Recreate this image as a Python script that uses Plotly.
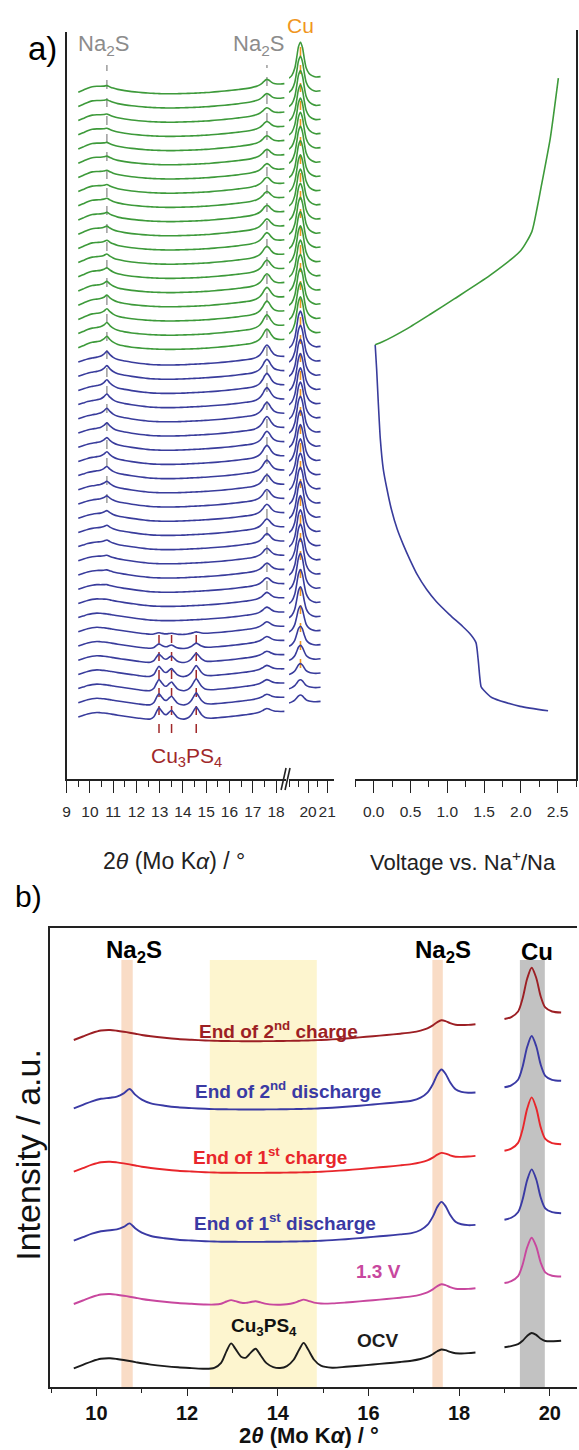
import plotly.graph_objects as go

W, H = 579, 1450
FONT = "Liberation Sans, Arial, Helvetica, sans-serif"

# ===================== DATA =====================
# ---- panel a : operando XRD waterfall (arbitrary intensity units) ----
two_theta_a = [9.5, 9.7, 9.9, 10.1, 10.3, 10.45, 10.6, 10.73, 10.86, 11.0,
               11.2, 11.5, 11.8, 12.1, 12.4, 12.6, 12.75, 12.87, 12.97, 13.07,
               13.2, 13.3, 13.4, 13.51, 13.62, 13.75, 13.9, 14.05, 14.2, 14.35,
               14.47, 14.57, 14.67, 14.8, 14.95, 15.2, 15.5, 15.8, 16.1, 16.4,
               16.7, 16.95, 17.15, 17.3, 17.42, 17.52, 17.61, 17.7, 17.8, 17.92,
               18.05, 18.2, 18.36]
baseline_discharge_a = [0, 1.5, 3, 4, 4.5, 4.3, 4, 3.6, 3.2, 2.6,
                        1.8, 0.8, -0.2, -1.2, -2, -2.5, -2.7, -2.8, -2.9, -3,
                        -3, -3, -3, -3, -3, -2.9, -2.8, -2.7, -2.5, -2.3,
                        -2.2, -2.1, -2, -1.8, -1.6, -1.2, -0.7, -0.1, 0.6, 1.4,
                        2.3, 3.1, 3.8, 4.3, 4.6, 4.8, 5, 5.1, 5.2, 5.3,
                        5.4, 5.5, 5.6]
baseline_charge_a = [0, 2, 4, 5.5, 5.8, 5.5, 5, 4.6, 4.1, 3.5,
                     2.6, 1.5, 0.6, -0.1, -0.7, -1, -1.2, -1.3, -1.4, -1.5,
                     -1.5, -1.6, -1.6, -1.6, -1.6, -1.5, -1.4, -1.3, -1.2, -1.1,
                     -1, -0.9, -0.8, -0.6, -0.4, 0, 0.6, 1.2, 1.9, 2.7,
                     3.6, 4.6, 5.4, 6, 6.4, 6.6, 6.8, 7, 7.2, 7.4,
                     7.7, 8.1, 8.6]
two_theta_cu_a = [19.0, 19.15, 19.3, 19.4, 19.5, 19.6, 19.7, 19.8, 19.9, 20.05, 20.2, 20.4, 20.65]
baseline_cu_a = [14, 14.8, 15.4, 15.7, 15.9, 16, 16, 15.9, 15.7, 15.4, 15.2, 15.2, 15.6]

# normalised reflection profiles
na2s_low_profile = {10.3: 0.05, 10.45: 0.2, 10.6: 0.55, 10.73: 1.0, 10.86: 0.6,
                    11.0: 0.3, 11.2: 0.1, 11.5: 0.03}
na2s_high_profile = {17.15: 0.07, 17.3: 0.22, 17.42: 0.5, 17.52: 0.84, 17.61: 1.0,
                     17.7: 0.82, 17.8: 0.48, 17.92: 0.2, 18.05: 0.08, 18.2: 0.02}
cu3ps4_profile = {12.6: 0.05, 12.75: 0.25, 12.87: 0.7, 12.97: 1.0, 13.07: 0.78,
                  13.2: 0.48, 13.3: 0.46, 13.4: 0.64, 13.51: 0.8, 13.62: 0.55,
                  13.75: 0.24, 13.9: 0.09, 14.05: 0.05, 14.2: 0.12, 14.35: 0.36,
                  14.47: 0.74, 14.57: 1.0, 14.67: 0.74, 14.8: 0.34, 14.95: 0.1}
cu_profile_a = {19.15: 0.06, 19.3: 0.25, 19.4: 0.55, 19.5: 0.88, 19.6: 1.0,
                19.7: 0.85, 19.8: 0.52, 19.9: 0.25, 20.05: 0.1, 20.2: 0.04}
cu_profile_b = {19.15: 0.02, 19.3: 0.12, 19.4: 0.38, 19.5: 0.78, 19.6: 1.0,
                19.7: 0.78, 19.8: 0.38, 19.9: 0.14, 20.05: 0.04}

n_discharge_scans = 26
n_charge_scans = 19
scan_spacing = 14.2
na2s_low_height_a = [0, 0, 0, 0, 0, 0, 0, 0, 0.5, 1, 1.5, 2, 3, 3.5, 4, 4.5, 5, 5.5, 6, 6,
                     6.5, 7, 7, 7, 7, 7,
                     7, 6.5, 6, 5.5, 5, 4.5, 4, 3.5, 3.5, 3, 3, 2.5, 2.5, 2.5, 2, 2, 2, 2, 2]
na2s_high_height_a = [3.5, 3.5, 4, 4, 4, 4.5, 5, 5.5, 6, 6.5, 7, 7.5, 8, 8.5, 9, 9.5, 10, 10.5,
                      11, 11, 11.5, 11.5, 12, 12, 12, 12,
                      12, 12, 11.5, 11, 10.5, 10, 9.5, 9, 8.5, 8, 7.5, 7.5, 7, 7, 6.5, 6.5, 6, 6, 6]
cu3ps4_height_a = [12, 12, 12, 11, 9, 5, 2, 0, 0, 0, 0, 0, 0, 0, 0, 0, 0, 0, 0, 0,
                   0, 0, 0, 0, 0, 0,
                   0, 0, 0, 0, 0, 0, 0, 0, 0, 0, 0, 0, 0, 0, 0, 0, 0, 0, 0]
cu_height_a = [6, 7, 9, 13, 18, 24, 29, 32, 34, 35, 35, 35, 35, 35, 35, 35, 35, 35, 35, 35,
               35, 35, 35, 35, 35, 35,
               35, 35, 35, 35, 35, 35, 35, 35, 35, 35, 35, 35, 35, 35, 35, 34, 34, 34, 34]

# ---- panel a : voltage profile (time in scan numbers) ----
scan_time_discharge = [0.42, 0.73, 1.34, 1.90, 2.11, 4.01, 5.21, 5.77, 6.34, 7.18, 8.10,
                       8.94, 10.0, 11.06, 12.11, 13.17, 14.58, 16.0, 17.4, 19.5, 22.3, 24.4, 26.13]
voltage_discharge = [2.37, 1.99, 1.61, 1.49, 1.46, 1.42, 1.39, 1.32, 1.21, 1.03, 0.85,
                     0.72, 0.59, 0.49, 0.40, 0.32, 0.24, 0.18, 0.13, 0.09, 0.06, 0.04, 0.02]
scan_time_charge = [26.13, 26.34, 27.25, 28.31, 29.37, 31.0, 32.75, 34.08, 35.7, 37.32, 40.63, 44.86]
voltage_charge = [0.02, 0.12, 0.45, 0.78, 1.10, 1.58, 2.00, 2.15, 2.22, 2.28, 2.40, 2.51]

# ---- panel b : selected patterns ----
two_theta_b = two_theta_a
baseline_b = [0, 3.5, 7, 9.5, 10, 9.3, 8.3, 7.3, 6.2, 5,
              3.7, 2.2, 1, 0.2, -0.5, -0.8, -1, -1, -1.1, -1.1,
              -1.2, -1.2, -1.2, -1.2, -1.2, -1.1, -1.1, -1, -0.9, -0.8,
              -0.7, -0.6, -0.5, -0.3, 0, 0.6, 1.5, 2.6, 3.8, 5,
              6.3, 7.6, 8.8, 9.8, 10.6, 11.2, 11.8, 12.4, 13, 13.6,
              14.3, 15, 15.8]
two_theta_cu_b = [19.0, 19.15, 19.3, 19.4, 19.5, 19.6, 19.7, 19.8, 19.9, 20.05, 20.25]
baseline_cu_b = [21, 22, 22.8, 23.3, 23.8, 24.3, 24.8, 25.3, 25.8, 26.6, 27.5]

patterns_b = ["OCV", "1.3 V", "End of 1<sup>st</sup> discharge", "End of 1<sup>st</sup> charge",
              "End of 2<sup>nd</sup> discharge", "End of 2<sup>nd</sup> charge"]
colors_b = ["#1c1c1c", "#c8479e", "#3a3aa4", "#e8262b", "#3a3aa4", "#9c1f24"]
level_b = [18.7, 83, 146.3, 215.3, 278.7, 347]
na2s_low_height_b = [0, 0, 10, 0, 12, 0]
na2s_high_height_b = [7, 8, 27, 7, 27, 8]
cu3ps4_height_b = [26, 5, 0, 0, 0, 0]
cu_height_b = [11, 42, 47, 50, 48, 48]
label_pos_b = [(378, 1340), (378, 1271), (284, 1222), (269, 1156), (287, 1090), (277, 1030)]

na2s_positions = [10.73, 17.61]
cu3ps4_positions = [12.97, 13.51, 14.57]
cu_position = 19.6

# colours
BLUE_A = "#393c9c"
GREEN_A = "#3d9a3a"

# ===================== FIGURE =====================
fig = go.Figure()


def pattern(two_theta, base, level, parts):
    out = []
    for k, x in enumerate(two_theta):
        v = level + base[k]
        for h, prof in parts:
            v += h * prof.get(x, 0)
        out.append(v)
    return out


for i in range(n_discharge_scans + n_charge_scans):
    discharge = i < n_discharge_scans
    col = BLUE_A if discharge else GREEN_A
    base = baseline_discharge_a if discharge else baseline_charge_a
    lvl = i * scan_spacing
    y_main = pattern(two_theta_a, base, lvl,
                     [(na2s_low_height_a[i], na2s_low_profile),
                      (na2s_high_height_a[i], na2s_high_profile),
                      (cu3ps4_height_a[i], cu3ps4_profile)])
    y_cu = pattern(two_theta_cu_a, baseline_cu_a, lvl, [(cu_height_a[i], cu_profile_a)])
    fig.add_trace(go.Scatter(x=two_theta_a, y=y_main, xaxis="x", yaxis="y", mode="lines",
                             line=dict(color=col, width=1.6, shape="spline", smoothing=0.8),
                             hoverinfo="skip", showlegend=False))
    fig.add_trace(go.Scatter(x=two_theta_cu_a, y=y_cu, xaxis="x2", yaxis="y", mode="lines",
                             line=dict(color=col, width=1.6, shape="spline", smoothing=0.8),
                             hoverinfo="skip", showlegend=False))

fig.add_trace(go.Scatter(x=voltage_discharge, y=scan_time_discharge, xaxis="x3", yaxis="y3",
                         mode="lines", line=dict(color=BLUE_A, width=1.6, shape="spline", smoothing=0.6),
                         hoverinfo="skip", showlegend=False))
fig.add_trace(go.Scatter(x=voltage_charge, y=scan_time_charge, xaxis="x3", yaxis="y3",
                         mode="lines", line=dict(color=GREEN_A, width=1.6, shape="spline", smoothing=0.6),
                         hoverinfo="skip", showlegend=False))

for j in range(len(patterns_b)):
    y_main = pattern(two_theta_b, baseline_b, level_b[j],
                     [(na2s_low_height_b[j], na2s_low_profile),
                      (na2s_high_height_b[j], na2s_high_profile),
                      (cu3ps4_height_b[j], cu3ps4_profile)])
    y_cu = pattern(two_theta_cu_b, baseline_cu_b, level_b[j], [(cu_height_b[j], cu_profile_b)])
    for xs, ys in ((two_theta_b, y_main), (two_theta_cu_b, y_cu)):
        fig.add_trace(go.Scatter(x=xs, y=ys, xaxis="x4", yaxis="y4", mode="lines",
                                 line=dict(color=colors_b[j], width=1.9, shape="spline", smoothing=0.8),
                                 hoverinfo="skip", showlegend=False))

# ===================== LAYOUT =====================
def fx(p):
    return p / W


def fy(p):
    return 1 - p / H


tick_common = dict(showgrid=False, zeroline=False, fixedrange=True, showline=True,
                   linecolor="#222", linewidth=1.8, ticks="outside", tickcolor="#222",
                   tickwidth=1.4, tickangle=0)

a_tickfont = dict(family=FONT, size=15.5, color="#2a2a2a")
fig.update_layout(
    width=W, height=H, autosize=False,
    margin=dict(l=0, r=0, t=0, b=0),
    paper_bgcolor="white", plot_bgcolor="rgba(0,0,0,0)",
    xaxis=dict(domain=[fx(63.3), fx(284.5)], range=[9, 18.41], anchor="y",
               tickmode="linear", tick0=9, dtick=1, ticklen=12, tickfont=a_tickfont,
               ticklabelstandoff=5,
               minor=dict(ticks="outside", ticklen=6, tickwidth=1.4, tickcolor="#222",
                          tick0=9, dtick=0.5), **tick_common),
    xaxis2=dict(domain=[fx(288), fx(333)], range=[19.0, 21.33], anchor="y",
                tickmode="array", tickvals=[20, 21], ticklen=12, tickfont=a_tickfont,
                ticklabelstandoff=5,
                minor=dict(ticks="outside", ticklen=6, tickwidth=1.4, tickcolor="#222",
                           tick0=19.5, dtick=0.5), **tick_common),
    yaxis=dict(domain=[fy(779), fy(32)], range=[-62, 685], anchor="x",
               showticklabels=False, showgrid=False, zeroline=False, fixedrange=True,
               showline=True, linecolor="#222", linewidth=1.8, ticks=""),
    xaxis3=dict(domain=[fx(355), fx(578)], range=[-0.25, 2.75], anchor="y3",
                tickmode="linear", tick0=0, dtick=0.5, tickformat=".1f", ticklen=12,
                tickfont=a_tickfont, ticklabelstandoff=5,
                minor=dict(ticks="outside", ticklen=6, tickwidth=1.4, tickcolor="#222",
                           tick0=-0.25, dtick=0.5), **tick_common),
    yaxis3=dict(domain=[fy(779), fy(30)], range=[-4.37, 48.24], anchor="x3", side="right",
                showticklabels=False, showgrid=False, zeroline=False, fixedrange=True,
                showline=True, linecolor="#222", linewidth=1.8, ticks=""),
    xaxis4=dict(domain=[fx(46.7), 1.0], range=[8.98, 20.6], anchor="y4", mirror=True,
                tickmode="linear", tick0=10, dtick=2, ticklen=7,
                tickfont=dict(family=FONT, size=20, color="#111", weight="bold"),
                ticklabelstandoff=0,
                minor=dict(ticks="outside", ticklen=4, tickwidth=1.4, tickcolor="#222",
                           tick0=9, dtick=2), **tick_common),
    yaxis4=dict(domain=[fy(1387), fy(928)], range=[0, 459], anchor="x4",
                showticklabels=False, showgrid=False, zeroline=False, fixedrange=True,
                showline=True, linecolor="#222", linewidth=1.8, ticks=""),
)

shapes = []
# reference dashed lines, panel a
for x in na2s_positions:
    shapes.append(dict(type="line", xref="x", yref="y", x0=x, x1=x,
                       y0=214 if x < 12 else 127, y1=652,
                       line=dict(color="#8c8c8c", width=1.3, dash="dash"), layer="below"))
shapes.append(dict(type="line", xref="x2", yref="y", x0=cu_position, x1=cu_position, y0=49, y1=670,
                   line=dict(color="#f0961e", width=1.6, dash="dash"), layer="below"))
for x in cu3ps4_positions:
    shapes.append(dict(type="line", xref="x", yref="y", x0=x, x1=x, y0=-16, y1=82,
                       line=dict(color="#a0282a", width=1.5, dash="dash"), layer="below"))
# axis break marks
for xb in (282.5, 286.5):
    shapes.append(dict(type="line", xref="paper", yref="paper",
                       x0=fx(xb - 2.5), y0=fy(790), x1=fx(xb + 2.5), y1=fy(768),
                       line=dict(color="#222", width=1.6)))
# highlight bands, panel b
band_top = 427
shapes.append(dict(type="rect", xref="x4", yref="y4", x0=12.5, x1=14.86, y0=0, y1=band_top,
                   fillcolor="#fdf5cf", line=dict(width=0), layer="below"))
for x0, x1 in ((10.55, 10.8), (17.41, 17.64)):
    shapes.append(dict(type="rect", xref="x4", yref="y4", x0=x0, x1=x1, y0=0, y1=band_top,
                       fillcolor="#f9dcc6", line=dict(width=0), layer="below"))
shapes.append(dict(type="rect", xref="x4", yref="y4", x0=19.34, x1=19.89, y0=0, y1=band_top,
                   fillcolor="#c2c2c2", line=dict(width=0), layer="below"))
fig.update_layout(shapes=shapes)

ann = []


def text(t, x, y, size, color="#000", angle=0):
    ann.append(dict(text=t, x=fx(x), y=fy(y), xref="paper", yref="paper", showarrow=False,
                    xanchor="center", yanchor="middle", textangle=angle,
                    font=dict(family=FONT, size=size, color=color)))


text("a)", 39, 48, 33)
text("Na<sub>2</sub>S", 101, 45, 22, "#8c8c8c")
text("Na<sub>2</sub>S", 257, 45, 22, "#8c8c8c")
text("Cu", 300, 25, 21, "#f0961e")
text("Cu<sub>3</sub>PS<sub>4</sub>", 184, 757, 21, "#a0282a")
text("2<i>θ</i> (Mo K<i>α</i>) / °", 172, 861, 23, "#222")
text("Voltage vs. Na<sup>+</sup>/Na", 464, 861, 22, "#222")

text("b)", 25, 897, 30)
text("<b>Na<sub>2</sub>S</b>", 131, 951, 24)
text("<b>Na<sub>2</sub>S</b>", 444, 951, 24)
text("<b>Cu</b>", 539, 951, 24)
for j, name in enumerate(patterns_b):
    text("<b>%s</b>" % name, label_pos_b[j][0], label_pos_b[j][1], 19, colors_b[j])
text("<b>Cu<sub>3</sub>PS<sub>4</sub></b>", 263, 1327, 19, "#111")
text("Intensity / a.u.", 24, 1155, 34, "#111", angle=-90)
text("<b>2<i>θ</i> (Mo K<i>α</i>) / °</b>", 308, 1435, 22, "#111")
fig.update_layout(annotations=ann)

fig.write_html("out.html")
